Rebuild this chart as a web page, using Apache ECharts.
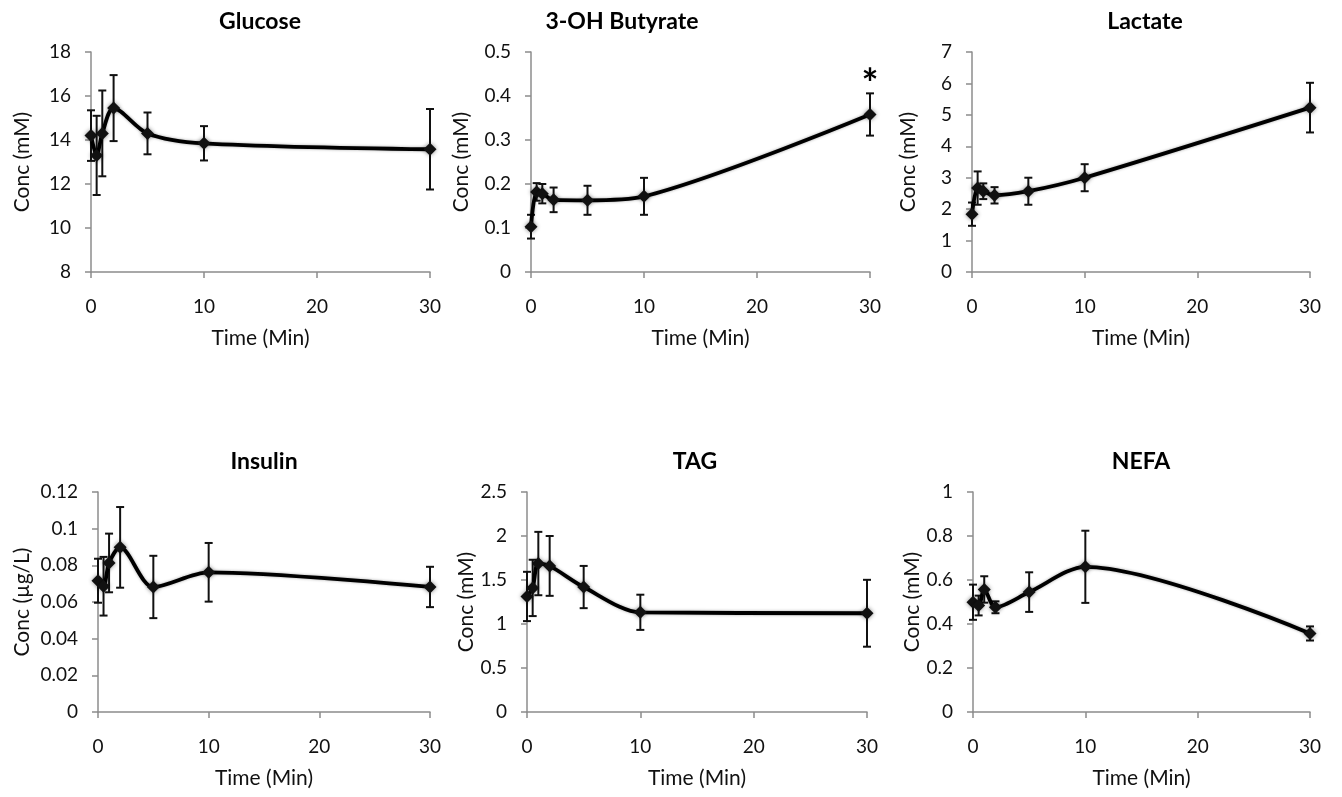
<!DOCTYPE html>
<html>
<head>
<meta charset="utf-8">
<title>Metabolites over time</title>
<script src="https://cdn.jsdelivr.net/npm/echarts@6/dist/echarts.min.js"></script>
<style>
  html, body { margin: 0; padding: 0; background: #fff; }
  #main { width: 1342px; height: 797px; }
</style>
</head>
<body>
<div id="main"></div>
<script>
// sampling times (min)
var times = [0, 0.5, 1, 2, 5, 10, 30];

// means and error (+/-)
var glucoseMean = [14.2, 13.3, 14.3, 15.45, 14.3, 13.85, 13.58];
var glucoseErr = [1.15, 1.8, 1.95, 1.5, 0.95, 0.78, 1.83];

var butyrateMean = [0.103, 0.182, 0.178, 0.164, 0.163, 0.172, 0.358];
var butyrateErr = [0.027, 0.02, 0.022, 0.028, 0.033, 0.042, 0.048];

var lactateMean = [1.84, 2.67, 2.57, 2.44, 2.57, 3.0, 5.23];
var lactateErr = [0.37, 0.53, 0.25, 0.26, 0.43, 0.43, 0.79];

var insulinMean = [0.0716, 0.0686, 0.0813, 0.0898, 0.0682, 0.0762, 0.0682];
var insulinErr = [0.012, 0.016, 0.016, 0.022, 0.017, 0.016, 0.011];

var tagMean = [1.313, 1.41, 1.687, 1.66, 1.42, 1.133, 1.122];
var tagErr = [0.28, 0.32, 0.36, 0.34, 0.24, 0.2, 0.38];

var nefaMean = [0.499, 0.484, 0.557, 0.476, 0.545, 0.66, 0.357];
var nefaErr = [0.08, 0.045, 0.06, 0.027, 0.09, 0.164, 0.032];

var titles = ['Glucose', '3-OH Butyrate', 'Lactate', 'Insulin', 'TAG', 'NEFA'];
var yNames = ['Conc (mM)', 'Conc (mM)', 'Conc (mM)', 'Conc (\u00b5g/L)', 'Conc (mM)', 'Conc (mM)'];
var yMin = [8, 0, 0, 0, 0, 0];
var yMax = [18, 0.5, 7, 0.12, 2.5, 1];
var yStep = [2, 0.1, 1, 0.02, 0.5, 0.2];

// significance marker
var starPoint = { panel: 1, time: 30 };

var panels = [
  { mean: glucoseMean, err: glucoseErr },
  { mean: butyrateMean, err: butyrateErr },
  { mean: lactateMean, err: lactateErr },
  { mean: insulinMean, err: insulinErr },
  { mean: tagMean, err: tagErr },
  { mean: nefaMean, err: nefaErr }
];

var myChart = echarts.init(document.getElementById('main'));
var FONT = 'Lato, "Open Sans", sans-serif';

// plot rectangles
var boxes = [
  { left: 91, top: 52, width: 339, height: 220 },
  { left: 531, top: 52, width: 339, height: 220 },
  { left: 972, top: 52, width: 338, height: 220 },
  { left: 98, top: 492, width: 332, height: 220 },
  { left: 527, top: 492, width: 340, height: 220 },
  { left: 973, top: 492, width: 337, height: 220 }
];
var titleX = [260, 622, 1145, 264, 695, 1141];
var yNameGap = [58, 59, 53, 65, 48, 46];

var grids = [], xAxes = [], yAxes = [], series = [], graphics = [];

boxes.forEach(function (b, i) {
  grids.push({ left: b.left, top: b.top, width: b.width, height: b.height, containLabel: false });

  graphics.push({
    type: 'text',
    x: titleX[i],
    y: b.top - 30,
    style: {
      text: titles[i],
      textAlign: 'center',
      textVerticalAlign: 'middle',
      font: 'bold 23px ' + FONT,
      fill: '#000'
    }
  });

  xAxes.push({
    type: 'value',
    gridIndex: i,
    min: 0,
    max: 30,
    interval: 10,
    name: 'Time (Min)',
    nameLocation: 'middle',
    nameGap: 56,
    nameTextStyle: { fontFamily: FONT, fontSize: 21, color: '#111' },
    axisLine: { show: true, onZero: false, lineStyle: { color: '#8c8c8c', width: 1.5 } },
    axisTick: { show: true, length: 6, lineStyle: { color: '#8c8c8c', width: 1.5 } },
    axisLabel: { fontFamily: FONT, fontSize: 19, color: '#111', margin: 25 },
    splitLine: { show: false }
  });

  yAxes.push({
    type: 'value',
    gridIndex: i,
    min: yMin[i],
    max: yMax[i],
    interval: yStep[i],
    name: yNames[i],
    nameLocation: 'middle',
    nameGap: yNameGap[i],
    nameTextStyle: { fontFamily: FONT, fontSize: 21, color: '#111' },
    axisLine: { show: true, lineStyle: { color: '#8c8c8c', width: 1.5 } },
    axisTick: { show: true, length: 6, lineStyle: { color: '#8c8c8c', width: 1.5 } },
    axisLabel: { fontFamily: FONT, fontSize: 19, color: '#111', margin: 20 },
    splitLine: { show: false }
  });

  var p = panels[i];
  var lineData = times.map(function (t, k) { return [t, p.mean[k]]; });
  var errData = times.map(function (t, k) { return [t, p.mean[k] - p.err[k], p.mean[k] + p.err[k]]; });

  series.push({
    type: 'custom',
    xAxisIndex: i,
    yAxisIndex: i,
    z: 3,
    renderItem: function (params, api) {
      var top = api.coord([api.value(0), api.value(2)]);
      var bot = api.coord([api.value(0), api.value(1)]);
      var w = 4;
      var style = { stroke: '#111', lineWidth: 2 };
      return {
        type: 'group',
        children: [
          { type: 'line', shape: { x1: top[0], y1: top[1], x2: bot[0], y2: bot[1] }, style: style },
          { type: 'line', shape: { x1: top[0] - w, y1: top[1], x2: top[0] + w, y2: top[1] }, style: style },
          { type: 'line', shape: { x1: bot[0] - w, y1: bot[1], x2: bot[0] + w, y2: bot[1] }, style: style }
        ]
      };
    },
    data: errData,
    silent: true
  });

  var lineSeries = {
    type: 'line',
    xAxisIndex: i,
    yAxisIndex: i,
    z: 4,
    smooth: 0.3,
    symbol: 'diamond',
    symbolSize: 13,
    lineStyle: { color: '#000', width: 3.8, shadowBlur: 3, shadowColor: 'rgba(0,0,0,0.35)' },
    itemStyle: { color: '#111', shadowBlur: 4, shadowColor: 'rgba(0,0,0,0.45)' },
    data: lineData,
    silent: true
  };

  if (starPoint.panel === i) {
    var k = times.indexOf(starPoint.time);
    lineSeries.markPoint = {
      symbol: 'circle',
      symbolSize: 1,
      itemStyle: { color: 'rgba(0,0,0,0)' },
      label: {
        show: true,
        formatter: '*',
        position: 'top',
        distance: -12,
        fontFamily: FONT,
        fontSize: 40,
        fontWeight: 'bold',
        color: '#000'
      },
      data: [{ coord: [starPoint.time, p.mean[k] + p.err[k]] }]
    };
  }

  series.push(lineSeries);
});

myChart.setOption({
  animation: false,
  backgroundColor: '#fff',
  grid: grids,
  xAxis: xAxes,
  yAxis: yAxes,
  graphic: graphics,
  series: series
});

window.addEventListener('resize', function () {
  myChart.resize();
});
</script>
</body>
</html>
